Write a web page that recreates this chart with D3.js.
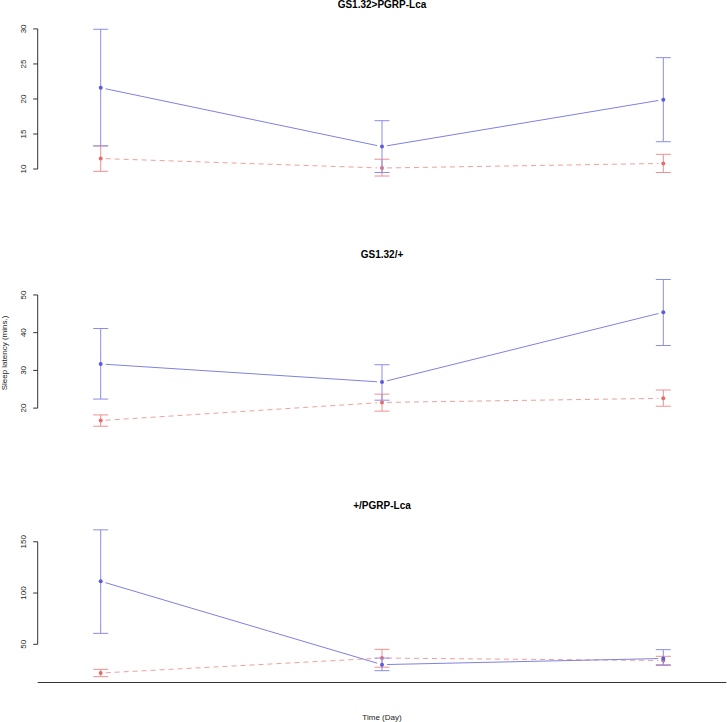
<!DOCTYPE html>
<html><head><meta charset="utf-8">
<script src="https://cdn.jsdelivr.net/npm/d3@7"></script>
<style>body{margin:0;background:#fff}svg{display:block}text{font-family:"Liberation Sans",Arial,sans-serif}</style>
</head><body><svg id="c" width="727" height="722"></svg>
<script>
const days = [1, 2, 3];
const titles = ["GS1.32>PGRP-Lca", "GS1.32/+", "+/PGRP-Lca"];
const yTicks = [[10, 15, 20, 25, 30], [20, 30, 40, 50], [50, 100, 150]];

// blue series (solid)
const blueMean = [[21.6, 13.2, 19.9], [31.7, 26.9, 45.4], [111.5, 30.2, 36.2]];
const blueLo   = [[13.3, 9.5, 13.9], [22.4, 22.1, 36.6], [60.7, 24.3, 29.5]];
const blueHi   = [[29.95, 16.9, 25.9], [41.1, 31.5, 54.1], [161.6, 36.6, 44.8]];
// red series (dashed)
const redMean = [[11.5, 10.14, 10.8], [16.7, 21.5, 22.6], [22.0, 36.6, 34.2]];
const redLo   = [[9.67, 9.0, 9.5], [15.2, 19.2, 20.5], [18.5, 27.7, 30.2]];
const redHi   = [[13.3, 11.4, 12.1], [18.2, 23.7, 24.8], [25.6, 45.1, 38.3]];

const svg = d3.select("#c");
const plotLeft = 37.7, plotRight = 726.3;
const panelTop = [23.4, 273.6, 524], plotH = 158.5;
const x = d3.scaleLinear().domain([1, 3]).range([100.7, 663.3]);

const blueBar = "#8c8ce8", blueLine = "#8080e0", bluePt = "#5c5cdc";
const redBar = "#f09090", redLine = "#f0a0a0", redPt = "#e86a6a";

titles.forEach((t, p) => {
  const all = blueLo[p].concat(blueHi[p], redLo[p], redHi[p]);
  const [mn, mx] = d3.extent(all);
  const ext = (mx - mn) * 0.04;
  const y = d3.scaleLinear().domain([mn - ext, mx + ext]).range([panelTop[p] + plotH, panelTop[p]]);
  const g = svg.append("g");

  // title
  g.append("text").attr("x", x(2)).attr("y", panelTop[p] - 15.5)
    .attr("text-anchor", "middle").attr("font-size", 10).attr("font-weight", "bold").text(t);

  // y axis
  const tk = yTicks[p];
  g.append("line").attr("x1", plotLeft).attr("x2", plotLeft)
    .attr("y1", y(tk[0])).attr("y2", y(tk[tk.length - 1])).attr("stroke", "#333");
  tk.forEach(v => {
    g.append("line").attr("x1", plotLeft - 4.5).attr("x2", plotLeft).attr("y1", y(v)).attr("y2", y(v)).attr("stroke", "#333");
    g.append("text").attr("transform", `translate(${plotLeft - 11.5},${y(v)}) rotate(-90)`)
      .attr("text-anchor", "middle").attr("font-size", 8).attr("fill", "#222").text(v);
  });

  function series(mean, lo, hi, barC, lineC, ptC, dash) {
    // connecting lines with gaps (type "b")
    for (let i = 0; i < days.length - 1; i++) {
      const x1 = x(days[i]), y1 = y(mean[i]), x2 = x(days[i + 1]), y2 = y(mean[i + 1]);
      const L = Math.hypot(x2 - x1, y2 - y1), gap = 5;
      const ux = (x2 - x1) / L, uy = (y2 - y1) / L;
      g.append("line").attr("x1", x1 + ux * gap).attr("y1", y1 + uy * gap)
        .attr("x2", x2 - ux * gap).attr("y2", y2 - uy * gap)
        .attr("stroke", lineC).attr("stroke-width", 1).attr("stroke-dasharray", dash);
    }
    days.forEach((d, i) => {
      const cx = x(d);
      g.append("line").attr("x1", cx).attr("x2", cx).attr("y1", y(lo[i])).attr("y2", y(hi[i])).attr("stroke", barC);
      [lo[i], hi[i]].forEach(v => g.append("line").attr("x1", cx - 7.5).attr("x2", cx + 7.5)
        .attr("y1", y(v)).attr("y2", y(v)).attr("stroke", barC));
      g.append("circle").attr("cx", cx).attr("cy", y(mean[i])).attr("r", 2).attr("fill", ptC);
    });
  }
  series(redMean[p], redLo[p], redHi[p], redBar, redLine, redPt, "5,4");
  series(blueMean[p], blueLo[p], blueHi[p], blueBar, blueLine, bluePt, null);

  if (p === 2) {
    g.append("line").attr("x1", plotLeft).attr("x2", plotRight)
      .attr("y1", panelTop[p] + plotH).attr("y2", panelTop[p] + plotH).attr("stroke", "#333");
  }
});

svg.append("text").attr("x", x(2)).attr("y", 720).attr("text-anchor", "middle")
  .attr("font-size", 8).attr("fill", "#222").text("Time (Day)");
svg.append("text").attr("transform", `translate(7,353) rotate(-90)`).attr("text-anchor", "middle")
  .attr("font-size", 8).attr("fill", "#222").text("Sleep latency (mins.)");
</script></body></html>
